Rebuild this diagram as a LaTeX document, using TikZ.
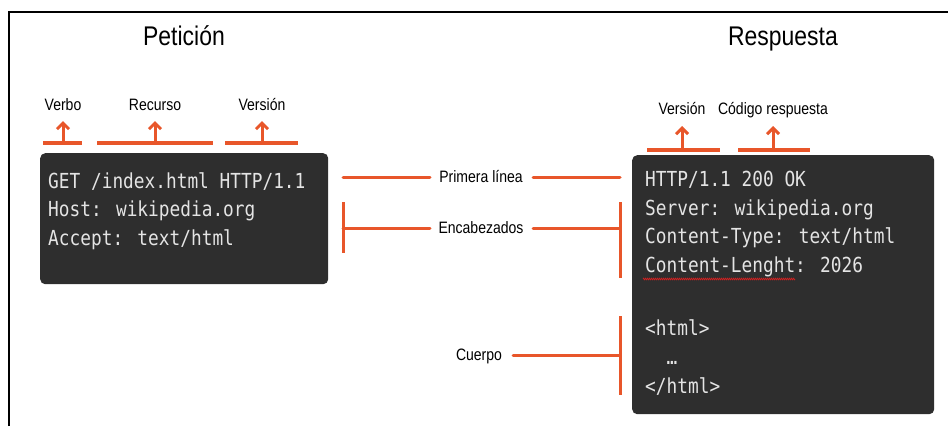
\documentclass[tikz,border=0pt]{standalone}
\usepackage{fontspec}
\setmainfont{Liberation Sans}
\newfontfamily\labelfont[FakeStretch=0.85]{Liberation Sans}
\newfontfamily\codefont[FakeStretch=0.86]{DejaVu Sans Mono}
\usetikzlibrary{arrows.meta,decorations.pathmorphing}
\definecolor{accent}{HTML}{E8562A}
\definecolor{panel}{HTML}{2E2E2E}
\definecolor{codetext}{HTML}{E4E4E4}
\definecolor{spell}{HTML}{D02020}
\begin{document}
\begin{tikzpicture}[x=1pt,y=-1pt,
  title/.style={font=\labelfont\fontsize{27}{30}\selectfont, anchor=base, inner sep=0pt},
  tag/.style={font=\labelfont\fontsize{16.5}{19}\selectfont, anchor=base, inner sep=0pt},
  panelbox/.style={fill=panel, rounded corners=5pt, draw=none, anchor=north west, inner sep=0pt},
  code/.style={font=\codefont\fontsize{20.7}{24}\selectfont, text=codetext, anchor=base west, inner sep=0pt},
  mark line/.style={draw=accent, line width=3.4pt},
  up arrow/.style={draw=accent, line width=3pt, -{Straight Barb[length=6pt,width=12pt]}},
  lead/.style={draw=accent, line width=3pt, line cap=round},
  bracket/.style={draw=accent, line width=3pt},
]
\useasboundingbox (0,0) rectangle (948,426);

% outer frame (top and left edges)
\draw[line width=2pt] (9,426) -- (9,12) -- (948,12);

% titles
\node[title] (tReq) at (184,45) {Petición};
\node[title] (tResp) at (783,45) {Respuesta};

% request panel
\node[panelbox, minimum width=288pt, minimum height=131pt] (req) at (40,153) {};
\node[code] (q1) at (48,188) {GET /index.html HTTP/1.1};
\node[code] (q2) at (48,216.5) {Host: wikipedia.org};
\node[code] (q3) at (48,245) {Accept: text/html};

% response panel
\node[panelbox, minimum width=302pt, minimum height=259pt] (resp) at (632,155) {};
\node[code] (r1) at (645,186.5) {HTTP/1.1 200 OK};
\node[code] (r2) at (645,215) {Server: wikipedia.org};
\node[code] (r3) at (645,243.5) {Content-Type: text/html};
\node[code] (r4) at (645,272) {Content-Lenght: 2026};
\node[code] (r5) at (645,335) {<html>};
\node[code] (r6) at (645,364) {\ \ …};
\node[code] (r7) at (645,393) {</html>};

% spell-check squiggle
\coordinate (sq1) at (643,279);
\coordinate (sq2) at (795,279);
\draw[spell, line width=0.7pt, decorate,
      decoration={zigzag, amplitude=0.8pt, segment length=2pt}] (sq1) -- (sq2);

% request line parts
\node[tag] (verbo) at (63,110) {Verbo};
\node[tag] (recurso) at (155,110) {Recurso};
\node[tag] (versionA) at (262,110) {Versión};

\coordinate (vbL) at (43,143);   \coordinate (vbR) at (82,143);
\coordinate (vbB) at (63,143);   \coordinate (vbT) at (63,121);
\coordinate (rcL) at (97,143);   \coordinate (rcR) at (213,143);
\coordinate (rcB) at (155,143);  \coordinate (rcT) at (155,121);
\coordinate (vaL) at (225,143);  \coordinate (vaR) at (298,143);
\coordinate (vaB) at (262,143);  \coordinate (vaT) at (262,121);

\draw[mark line] (vbL) -- (vbR);
\draw[mark line] (rcL) -- (rcR);
\draw[mark line] (vaL) -- (vaR);
\draw[up arrow] (vbB) -- (vbT);
\draw[up arrow] (rcB) -- (rcT);
\draw[up arrow] (vaB) -- (vaT);

% status line parts
\node[tag] (versionB) at (682,114) {Versión};
\node[tag] (codigo) at (773,114) {Código respuesta};

\coordinate (vrL) at (647,150);  \coordinate (vrR) at (720,150);
\coordinate (vrB) at (682,150);  \coordinate (vrT) at (682,126);
\coordinate (cdL) at (738,150);  \coordinate (cdR) at (810,150);
\coordinate (cdB) at (773,150);  \coordinate (cdT) at (773,126);

\draw[mark line] (vrL) -- (vrR);
\draw[mark line] (cdL) -- (cdR);
\draw[up arrow] (vrB) -- (vrT);
\draw[up arrow] (cdB) -- (cdT);

% middle labels
\node[tag] (primera) at (481,182) {Primera línea};
\node[tag] (encab) at (481,233) {Encabezados};
\node[tag] (cuerpo) at (479,360) {Cuerpo};

% first line leaders
\coordinate (plL) at (343,177);
\coordinate (plR) at (620,177);
\draw[lead] (plL) -- ++(87,0);
\draw[lead] (plR) -- ++(-87,0);

% header brackets
\coordinate (hLt) at (343,202);  \coordinate (hLb) at (343,253);
\coordinate (hLm) at (343,228);
\coordinate (hRt) at (620,202);  \coordinate (hRb) at (620,278);
\coordinate (hRm) at (620,228);
\draw[bracket] (hLt) -- (hLb);
\draw[bracket] (hRt) -- (hRb);
\draw[lead] (hLm) -- ++(87,0);
\draw[lead] (hRm) -- ++(-87,0);

% body bracket
\coordinate (bt) at (620,316);  \coordinate (bb) at (620,395);
\coordinate (bm) at (620,355);
\draw[bracket] (bt) -- (bb);
\draw[lead] (bm) -- ++(-107,0);
\end{tikzpicture}
\end{document}
